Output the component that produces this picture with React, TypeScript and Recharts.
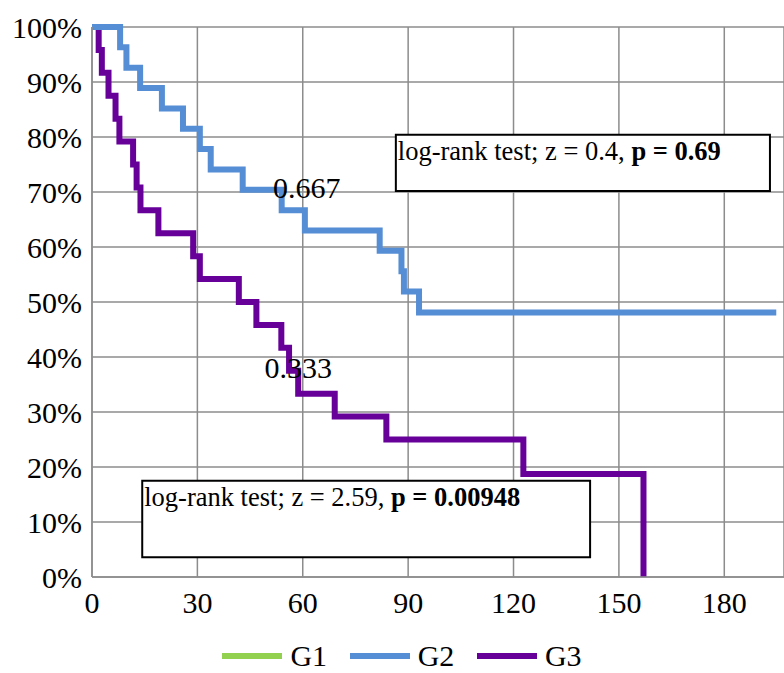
import React from 'react';
import {
  LineChart,
  Line,
  XAxis,
  YAxis,
  CartesianGrid,
  ReferenceArea,
  ReferenceDot,
  Legend,
} from 'recharts';

// ---- data ----
const seriesNames = ['G1', 'G2', 'G3'];
const seriesColors = ['#92D050', '#558ED5', '#660099'];

const g2Time = [0, 8.0, 9.8, 13.7, 19.9, 25.9, 30.7, 33.8, 42.9, 54.0, 60.6, 81.9, 88.1, 88.8, 93.1, 194.8];
const g2Surv = [100, 96.3, 92.6, 88.9, 85.2, 81.5, 77.8, 74.1, 70.4, 66.7, 63.0, 59.3, 55.6, 51.9, 48.1, 48.1];

const g3Time = [0, 1.9, 2.8, 4.7, 6.7, 7.8, 11.7, 12.7, 13.8, 18.9, 28.8, 30.7, 41.8, 46.8, 53.9, 56.1, 58.7, 69.1, 83.8, 122.8, 157.0];
const g3Surv = [100, 95.8, 91.7, 87.5, 83.3, 79.2, 75.0, 70.8, 66.7, 62.5, 58.3, 54.2, 50.0, 45.8, 41.7, 37.5, 33.3, 29.2, 25.0, 18.75, 0];

const xTicks = [0, 30, 60, 90, 120, 150, 180];
const yTicks = [0, 10, 20, 30, 40, 50, 60, 70, 80, 90, 100];

const medianLabels = ['0.667', '0.333'];
const medianLabelX = [61.1, 58.7];
const medianLabelY = [70.9, 38.2];

const testNormal = ['log-rank test; z = 0.4, ', 'log-rank test; z = 2.59, '];
const testBold = ['p = 0.69', 'p = 0.00948'];
const testBoxX1 = [86.5, 14.3];
const testBoxX2 = [193.0, 141.8];
const testBoxY1 = [70.2, 3.6];
const testBoxY2 = [80.4, 17.5];

const g2Data = g2Time.map((t, i) => ({ t, s: g2Surv[i] }));
const g3Data = g3Time.map((t, i) => ({ t, s: g3Surv[i] }));

const FONT = '"Liberation Serif", "Times New Roman", serif';
const GRID = '#8c8c8c';

const BoxLabel = (props: any) => {
  const { viewBox, normal, bold } = props;
  if (!viewBox) return null;
  return (
    <text
      x={viewBox.x + 2}
      y={viewBox.y + 25}
      fontSize={26.5}
      fontFamily={FONT}
      fill="#000"
    >
      {normal}
      <tspan fontWeight="bold">{bold}</tspan>
    </text>
  );
};

const LegendContent = () => (
  <div
    style={{
      display: 'flex',
      justifyContent: 'center',
      alignItems: 'center',
      width: 784,
      height: 30,
      paddingLeft: 20,
      boxSizing: 'border-box',
      fontFamily: FONT,
      fontSize: 30,
      lineHeight: '30px',
      color: '#000',
    }}
  >
    {seriesNames.map((n, i) => (
      <div
        key={n}
        style={{
          display: 'flex',
          alignItems: 'center',
          marginLeft: i === 0 ? 0 : 22.6,
        }}
      >
        <span
          style={{
            display: 'inline-block',
            width: 60,
            height: 6,
            background: seriesColors[i],
            marginRight: 8,
          }}
        />
        <span>{n}</span>
      </div>
    ))}
  </div>
);

export default function App() {
  return (
    <div style={{ position: 'absolute', left: 0, top: 0, width: 784, height: 673 }}>
      <LineChart
        width={784}
        height={673}
        margin={{ top: 27, right: 0, bottom: 66, left: 0 }}
        style={{ fontFamily: FONT }}
      >
        <CartesianGrid stroke={GRID} strokeWidth={1.5} />
        <XAxis
          type="number"
          dataKey="t"
          domain={[0, 197]}
          ticks={xTicks}
          allowDataOverflow
          height={30}
          tickLine={false}
          tickMargin={9}
          axisLine={{ stroke: GRID, strokeWidth: 1.5 }}
          tick={{ fill: '#000', fontSize: 30, fontFamily: FONT }}
          interval={0}
        />
        <YAxis
          type="number"
          domain={[0, 100]}
          ticks={yTicks}
          width={92}
          tickLine={false}
          tickMargin={4}
          axisLine={{ stroke: GRID, strokeWidth: 1.5 }}
          tick={{ fill: '#000', fontSize: 30, fontFamily: FONT }}
          tickFormatter={(v: number) => `${v}%`}
          interval={0}
        />
        {testNormal.map((txt, i) => (
          <ReferenceArea
            key={'box' + i}
            x1={testBoxX1[i]}
            x2={testBoxX2[i]}
            y1={testBoxY1[i]}
            y2={testBoxY2[i]}
            fill="#ffffff"
            fillOpacity={1}
            stroke="#000"
            strokeWidth={2}
            label={<BoxLabel normal={txt} bold={testBold[i]} />}
          />
        ))}
        <Line
          data={g3Data}
          dataKey="s"
          name="G3"
          type="stepAfter"
          stroke={seriesColors[2]}
          strokeWidth={6}
          dot={false}
          activeDot={false}
          isAnimationActive={false}
        />
        <Line
          data={g2Data}
          dataKey="s"
          name="G2"
          type="stepAfter"
          stroke={seriesColors[1]}
          strokeWidth={6}
          dot={false}
          activeDot={false}
          isAnimationActive={false}
        />
        {medianLabels.map((m, i) => (
          <ReferenceDot
            key={'m' + i}
            x={medianLabelX[i]}
            y={medianLabelY[i]}
            r={0}
            fill="none"
            stroke="none"
            label={{ value: m, position: 'center', fontSize: 30, fill: '#000', fontFamily: FONT }}
          />
        ))}
        <Legend
          layout="horizontal"
          verticalAlign="middle"
          align="center"
          content={<LegendContent />}
          wrapperStyle={{ top: 641, left: 0, width: 784, height: 30 }}
        />
      </LineChart>
    </div>
  );
}
